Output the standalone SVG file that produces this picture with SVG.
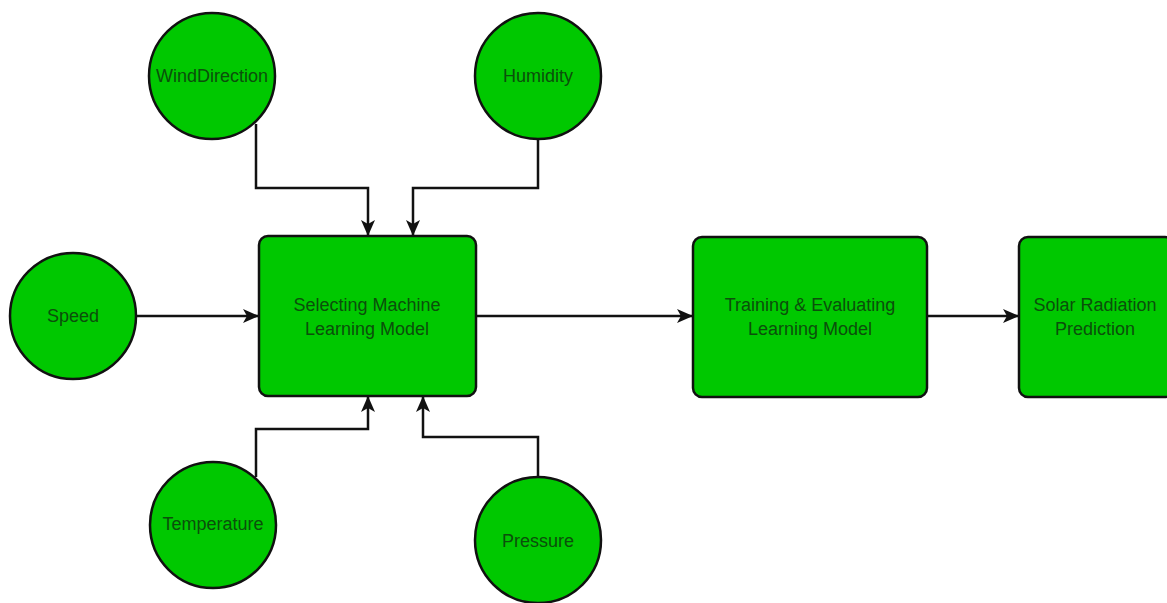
<svg xmlns="http://www.w3.org/2000/svg" width="1167" height="603" viewBox="0 0 1167 603">
<defs>
<style>
.node{fill:#00c800;stroke:#111;stroke-width:2.5}
.lbl{font-family:"Liberation Sans",Arial,sans-serif;font-size:18px;fill:#0b4f0b;text-anchor:middle}
.edge{fill:none;stroke:#111;stroke-width:2.5}
</style>
<marker id="arr" viewBox="0 0 16 14" refX="15" refY="7" markerWidth="16" markerHeight="14" markerUnits="userSpaceOnUse" orient="auto">
<path d="M0,0 L16,7 L0,14 L4,7 Z" fill="#111"/>
</marker>
</defs>
<rect width="1167" height="603" fill="#fff"/>
<g id="connectors">
<path class="edge" d="M256,124 V188 H368 V235" marker-end="url(#arr)"/>
<path class="edge" d="M538,139 V188 H413 V235" marker-end="url(#arr)"/>
<path class="edge" d="M136,316 H258" marker-end="url(#arr)"/>
<path class="edge" d="M256,477 V429 H368 V397" marker-end="url(#arr)"/>
<path class="edge" d="M538,476 V437 H423 V397" marker-end="url(#arr)"/>
<path class="edge" d="M476,316 H692" marker-end="url(#arr)"/>
<path class="edge" d="M927,316 H1018" marker-end="url(#arr)"/>
</g>
<g id="winddirection">
<circle class="node" cx="212" cy="76" r="63"/>
<text class="lbl" x="212" y="82">WindDirection</text>
</g>
<g id="humidity">
<circle class="node" cx="538" cy="76" r="63"/>
<text class="lbl" x="538" y="82">Humidity</text>
</g>
<g id="speed">
<circle class="node" cx="73" cy="316" r="63"/>
<text class="lbl" x="73" y="322">Speed</text>
</g>
<g id="temperature">
<circle class="node" cx="213" cy="525" r="63"/>
<text class="lbl" x="213" y="530">Temperature</text>
</g>
<g id="pressure">
<circle class="node" cx="538" cy="540" r="63"/>
<text class="lbl" x="538" y="547">Pressure</text>
</g>
<g id="selecting">
<rect class="node" x="259" y="236" width="217" height="160" rx="9"/>
<text class="lbl" x="367" y="311">Selecting Machine</text>
<text class="lbl" x="367" y="335">Learning Model</text>
</g>
<g id="training">
<rect class="node" x="693" y="237" width="234" height="160" rx="9"/>
<text class="lbl" x="810" y="311">Training &amp; Evaluating</text>
<text class="lbl" x="810" y="335">Learning Model</text>
</g>
<g id="solar">
<rect class="node" x="1019" y="237" width="155" height="160" rx="9"/>
<text class="lbl" x="1095" y="311">Solar Radiation</text>
<text class="lbl" x="1095" y="335">Prediction</text>
</g>
</svg>
